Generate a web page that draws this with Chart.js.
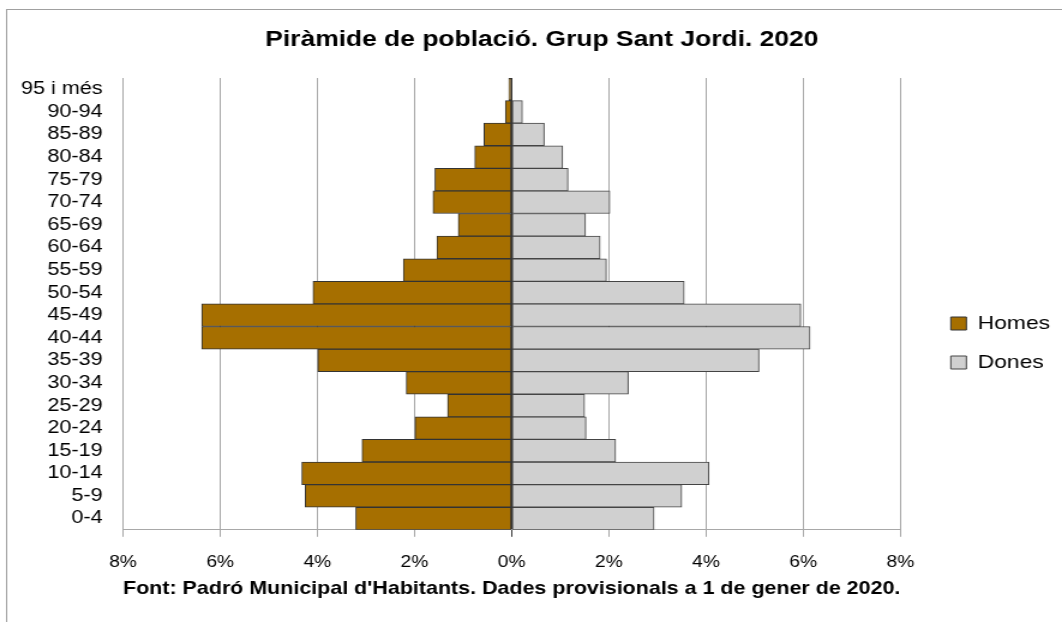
<!DOCTYPE html>
<html>
<head>
<meta charset="utf-8">
<script src="https://cdn.jsdelivr.net/npm/chart.js@4.4.0/dist/chart.umd.min.js"></script>
<style>
  html, body { margin: 0; padding: 0; background: #ffffff; overflow: hidden; }
  #c { display: block; width: 1062px; height: 622px; }
</style>
</head>
<body>
<canvas id="c" width="885" height="622" style="width:1062px;height:622px"></canvas>
<script>
const ageGroups = ["0-4","5-9","10-14","15-19","20-24","25-29","30-34","35-39","40-44","45-49","50-54","55-59","60-64","65-69","70-74","75-79","80-84","85-89","90-94","95 i més"];
const homes = [3.21, 4.25, 4.32, 3.08, 1.99, 1.32, 2.17, 3.99, 6.38, 6.38, 4.09, 2.23, 1.54, 1.10, 1.62, 1.58, 0.76, 0.57, 0.13, 0.06];
const dones = [2.93, 3.50, 4.06, 2.14, 1.53, 1.50, 2.40, 5.09, 6.14, 5.95, 3.55, 1.95, 1.82, 1.52, 2.02, 1.16, 1.05, 0.67, 0.22, 0.00];
const xTicks = [-8, -6, -4, -2, 0, 2, 4, 6, 8];
const titleText = "Piràmide de població. Grup Sant Jordi. 2020";
const sourceText = "Font: Padró Municipal d'Habitants. Dades provisionals a 1 de gener de 2020.";

const FONT = "'Liberation Sans', Arial, sans-serif";

const frame = {
  id: 'frame',
  beforeDraw(chart) {
    const ctx = chart.ctx;
    ctx.save();
    ctx.fillStyle = '#ffffff';
    ctx.fillRect(0, 0, chart.width, chart.height);
    ctx.strokeStyle = '#a0a0a0';
    ctx.lineWidth = 1;
    ctx.strokeRect(5.5, 9.5, chart.width + 10, chart.height + 10);
    ctx.restore();
  }
};

new Chart(document.getElementById('c'), {
  type: 'bar',
  data: {
    labels: ageGroups,
    datasets: [
      {
        label: 'Homes',
        data: homes.map(v => -v),
        backgroundColor: '#A66F00',
        borderColor: '#333333',
        borderWidth: 1,
        borderSkipped: false,
        barPercentage: 1,
        categoryPercentage: 1
      },
      {
        label: 'Dones',
        data: dones,
        backgroundColor: '#D0D0D0',
        borderColor: '#444444',
        borderWidth: 1,
        borderSkipped: false,
        barPercentage: 1,
        categoryPercentage: 1
      }
    ]
  },
  options: {
    indexAxis: 'y',
    responsive: false,
    animation: false,
    devicePixelRatio: 1,
    layout: { padding: { left: 18, right: 0, top: 0, bottom: 12 } },
    scales: {
      x: {
        stacked: true,
        min: -8,
        max: 8,
        afterBuildTicks(axis) { axis.ticks = xTicks.map(v => ({ value: v })); },
        ticks: {
          callback: v => Math.abs(v) + '%',
          color: '#000',
          font: { family: FONT, size: 16 },
          padding: 16
        },
        grid: {
          color: ctx => (ctx.tick && ctx.tick.value === 0) ? '#333333' : '#a8a8a8',
          lineWidth: 1,
          drawTicks: true,
          tickLength: 7
        },
        border: { display: true, color: '#a8a8a8' },
        title: {
          display: true,
          text: sourceText,
          color: '#000',
          font: { family: FONT, size: 19, weight: 'bold', lineHeight: 0.105 },
          padding: { top: 0, bottom: 20 }
        }
      },
      y: {
        stacked: true,
        reverse: true,
        afterFit(scale) { scale.width = 84.5; },
        ticks: {
          color: '#000',
          font: { family: FONT, size: 18 },
          padding: 17,
          autoSkip: false
        },
        grid: { display: false, drawTicks: false },
        border: { display: false }
      },
      spacer: {
        type: 'linear',
        position: 'right',
        display: true,
        ticks: { display: false },
        grid: { display: false, drawTicks: false },
        border: { display: false },
        afterFit(scale) { scale.width = 22; }
      }
    },
    plugins: {
      title: {
        display: true,
        text: titleText,
        color: '#000',
        font: { family: FONT, size: 22, weight: 'bold', lineHeight: 1.2 },
        padding: { top: 26.3, bottom: 25.3 }
      },
      legend: {
        position: 'right',
        title: {
          display: true,
          text: ' ',
          font: { size: 10, lineHeight: 1.2 },
          padding: { top: 32, bottom: 32 }
        },
        labels: {
          color: '#000',
          font: { family: FONT, size: 19 },
          boxWidth: 13,
          boxHeight: 13,
          padding: 20
        }
      },
      tooltip: { enabled: false }
    }
  },
  plugins: [frame]
});
</script>
</body>
</html>
